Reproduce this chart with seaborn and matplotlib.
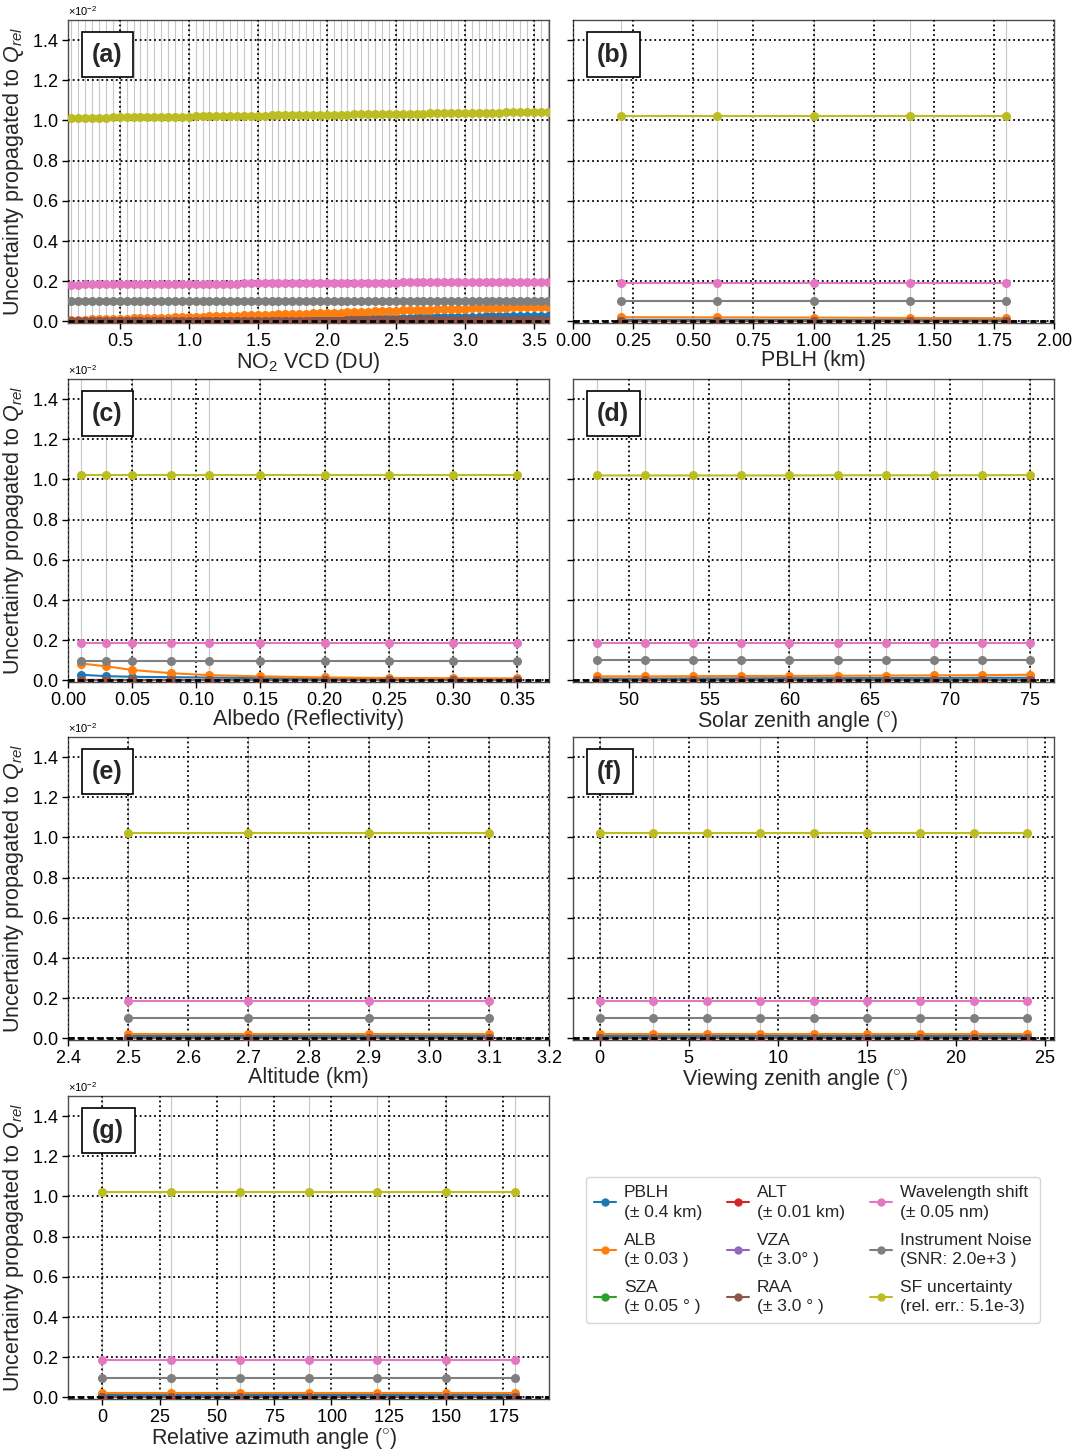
import numpy as np
import pandas as pd
import matplotlib
matplotlib.use("Agg")
import matplotlib.pyplot as plt
from matplotlib.lines import Line2D
from matplotlib.ticker import MultipleLocator
import seaborn as sns

# ---------------- data (y values in units of 1e-2) ----------------
SCALE = 1e-2
params = ["PBLH", "ALB", "SZA", "ALT", "VZA", "RAA", "WLS", "NOISE", "SF"]
colors = ["#1f77b4", "#ff7f0e", "#2ca02c", "#d62728", "#9467bd",
          "#8c564b", "#e377c2", "#7f7f7f", "#bcbd22"]
legend_labels = ["PBLH\n(± 0.4 km)", "ALB\n(± 0.03 )", "SZA\n(± 0.05 ° )",
                 "ALT\n(± 0.01 km)", "VZA\n(± 3.0° )", "RAA\n(± 3.0 ° )",
                 "Wavelength shift\n(± 0.05 nm)", "Instrument Noise\n(SNR: 2.0e+3 )",
                 "SF uncertainty\n(rel. err.: 5.1e-3)"]

# (a) NO2 VCD
a_x = np.round(np.arange(0.15, 3.601, 0.05), 2)
a_sf = [1.012, 1.012, 1.013, 1.013, 1.014, 1.014, 1.015, 1.015, 1.015, 1.016,
        1.016, 1.017, 1.017, 1.018, 1.018, 1.019, 1.019, 1.019, 1.020, 1.020,
        1.021, 1.021, 1.022, 1.022, 1.022, 1.023, 1.023, 1.024, 1.024, 1.025,
        1.025, 1.026, 1.026, 1.026, 1.027, 1.027, 1.028, 1.028, 1.029, 1.029,
        1.029, 1.030, 1.030, 1.031, 1.031, 1.032, 1.032, 1.033, 1.033, 1.033,
        1.034, 1.034, 1.035, 1.035, 1.036, 1.036, 1.036, 1.037, 1.037, 1.038,
        1.038, 1.039, 1.039, 1.040, 1.040, 1.040, 1.041, 1.041, 1.042, 1.042]
a_wls = [0.183, 0.183, 0.184, 0.184, 0.184, 0.184, 0.185, 0.185, 0.185, 0.185,
         0.185, 0.186, 0.186, 0.186, 0.186, 0.187, 0.187, 0.187, 0.187, 0.187,
         0.188, 0.188, 0.188, 0.188, 0.188, 0.189, 0.189, 0.189, 0.189, 0.189,
         0.190, 0.190, 0.190, 0.190, 0.191, 0.191, 0.191, 0.191, 0.191, 0.192,
         0.192, 0.192, 0.192, 0.192, 0.193, 0.193, 0.193, 0.193, 0.194, 0.194,
         0.194, 0.194, 0.194, 0.195, 0.195, 0.195, 0.195, 0.196, 0.196, 0.196,
         0.196, 0.196, 0.197, 0.197, 0.197, 0.197, 0.197, 0.198, 0.198, 0.198]
a_noise = [0.100, 0.100, 0.100, 0.100, 0.100, 0.100, 0.100, 0.100, 0.100, 0.100,
           0.100, 0.100, 0.100, 0.100, 0.100, 0.100, 0.100, 0.100, 0.100, 0.100,
           0.100, 0.100, 0.100, 0.100, 0.100, 0.100, 0.100, 0.100, 0.100, 0.100,
           0.100, 0.100, 0.100, 0.100, 0.100, 0.100, 0.100, 0.100, 0.100, 0.100,
           0.100, 0.100, 0.100, 0.100, 0.100, 0.100, 0.100, 0.100, 0.100, 0.100,
           0.100, 0.100, 0.100, 0.100, 0.100, 0.100, 0.100, 0.100, 0.100, 0.100,
           0.100, 0.100, 0.100, 0.100, 0.100, 0.100, 0.100, 0.100, 0.100, 0.100]
a_alb = [0.008, 0.009, 0.009, 0.010, 0.010, 0.011, 0.012, 0.013, 0.014, 0.015,
         0.015, 0.016, 0.017, 0.018, 0.019, 0.020, 0.021, 0.022, 0.023, 0.024,
         0.025, 0.026, 0.027, 0.028, 0.029, 0.030, 0.031, 0.032, 0.033, 0.034,
         0.035, 0.036, 0.037, 0.038, 0.039, 0.040, 0.041, 0.042, 0.043, 0.044,
         0.046, 0.047, 0.048, 0.049, 0.050, 0.051, 0.052, 0.054, 0.055, 0.056,
         0.057, 0.058, 0.059, 0.060, 0.061, 0.062, 0.063, 0.064, 0.065, 0.066,
         0.066, 0.067, 0.068, 0.069, 0.070, 0.070, 0.071, 0.072, 0.073, 0.074]
a_pblh = [0.003, 0.003, 0.003, 0.003, 0.004, 0.004, 0.004, 0.004, 0.004, 0.005,
          0.005, 0.005, 0.005, 0.006, 0.006, 0.006, 0.006, 0.007, 0.007, 0.007,
          0.008, 0.008, 0.008, 0.009, 0.009, 0.009, 0.010, 0.010, 0.010, 0.011,
          0.011, 0.011, 0.012, 0.012, 0.012, 0.013, 0.013, 0.013, 0.014, 0.014,
          0.015, 0.015, 0.016, 0.016, 0.017, 0.017, 0.018, 0.018, 0.019, 0.019,
          0.020, 0.020, 0.021, 0.021, 0.022, 0.022, 0.023, 0.023, 0.024, 0.024,
          0.025, 0.025, 0.025, 0.026, 0.026, 0.026, 0.027, 0.027, 0.027, 0.028]
a_sza = [0.001, 0.001, 0.001, 0.001, 0.001, 0.001, 0.001, 0.001, 0.001, 0.001,
         0.001, 0.001, 0.001, 0.001, 0.001, 0.001, 0.001, 0.001, 0.001, 0.001,
         0.001, 0.001, 0.001, 0.001, 0.001, 0.001, 0.001, 0.001, 0.001, 0.001,
         0.001, 0.001, 0.001, 0.001, 0.001, 0.001, 0.001, 0.001, 0.001, 0.001,
         0.001, 0.001, 0.001, 0.001, 0.001, 0.001, 0.001, 0.001, 0.001, 0.001,
         0.001, 0.001, 0.001, 0.001, 0.001, 0.001, 0.001, 0.001, 0.001, 0.001,
         0.001, 0.001, 0.001, 0.001, 0.001, 0.001, 0.001, 0.001, 0.001, 0.001]
a_alt = [0.002, 0.002, 0.002, 0.002, 0.002, 0.002, 0.002, 0.002, 0.002, 0.002,
         0.002, 0.002, 0.002, 0.002, 0.002, 0.002, 0.002, 0.002, 0.002, 0.002,
         0.002, 0.002, 0.002, 0.002, 0.002, 0.002, 0.002, 0.002, 0.002, 0.002,
         0.002, 0.002, 0.002, 0.002, 0.002, 0.002, 0.002, 0.002, 0.002, 0.002,
         0.002, 0.002, 0.002, 0.002, 0.002, 0.002, 0.002, 0.002, 0.002, 0.002,
         0.002, 0.002, 0.002, 0.002, 0.002, 0.002, 0.002, 0.002, 0.002, 0.002,
         0.002, 0.002, 0.002, 0.002, 0.002, 0.002, 0.002, 0.002, 0.002, 0.002]
a_vza = [0.001, 0.001, 0.001, 0.001, 0.001, 0.001, 0.001, 0.001, 0.001, 0.001,
         0.001, 0.001, 0.001, 0.001, 0.001, 0.001, 0.001, 0.001, 0.001, 0.001,
         0.001, 0.001, 0.001, 0.001, 0.001, 0.001, 0.001, 0.001, 0.001, 0.001,
         0.001, 0.001, 0.001, 0.001, 0.001, 0.001, 0.001, 0.001, 0.001, 0.001,
         0.001, 0.001, 0.001, 0.001, 0.001, 0.001, 0.001, 0.001, 0.001, 0.001,
         0.001, 0.001, 0.001, 0.001, 0.001, 0.001, 0.001, 0.001, 0.001, 0.001,
         0.001, 0.001, 0.001, 0.001, 0.001, 0.001, 0.001, 0.001, 0.001, 0.001]
a_raa = [0.003, 0.003, 0.003, 0.003, 0.003, 0.003, 0.003, 0.003, 0.003, 0.003,
         0.003, 0.003, 0.003, 0.003, 0.003, 0.003, 0.003, 0.003, 0.003, 0.003,
         0.004, 0.004, 0.004, 0.004, 0.004, 0.004, 0.004, 0.004, 0.004, 0.004,
         0.004, 0.004, 0.004, 0.004, 0.004, 0.004, 0.004, 0.004, 0.004, 0.004,
         0.005, 0.005, 0.005, 0.005, 0.005, 0.005, 0.005, 0.005, 0.005, 0.005,
         0.005, 0.005, 0.005, 0.005, 0.005, 0.005, 0.005, 0.005, 0.005, 0.005,
         0.006, 0.006, 0.006, 0.006, 0.006, 0.006, 0.006, 0.006, 0.006, 0.006]

# (b) PBLH
b_x = [0.2, 0.6, 1.0, 1.4, 1.8]
b_pblh = [0.008, 0.008, 0.007, 0.006, 0.006]
b_alb = [0.021, 0.020, 0.019, 0.017, 0.016]
b_sza = [0.001, 0.001, 0.001, 0.001, 0.001]
b_alt = [0.002, 0.002, 0.002, 0.002, 0.002]
b_vza = [0.001, 0.001, 0.001, 0.001, 0.001]
b_raa = [0.003, 0.003, 0.003, 0.003, 0.003]
b_wls = [0.189, 0.189, 0.189, 0.189, 0.189]
b_noise = [0.100, 0.100, 0.100, 0.100, 0.100]
b_sf = [1.020, 1.020, 1.020, 1.020, 1.020]

# (c) Albedo
c_x = [0.01, 0.03, 0.05, 0.08, 0.11, 0.15, 0.20, 0.25, 0.30, 0.35]
c_pblh = [0.028, 0.021, 0.018, 0.016, 0.014, 0.011, 0.009, 0.008, 0.007, 0.006]
c_alb = [0.084, 0.070, 0.052, 0.036, 0.026, 0.020, 0.015, 0.012, 0.011, 0.010]
c_sza = [0.001, 0.001, 0.001, 0.001, 0.001, 0.001, 0.001, 0.001, 0.001, 0.001]
c_alt = [0.002, 0.002, 0.002, 0.002, 0.002, 0.002, 0.002, 0.002, 0.002, 0.002]
c_vza = [0.001, 0.001, 0.001, 0.001, 0.001, 0.001, 0.001, 0.001, 0.001, 0.001]
c_raa = [0.003, 0.003, 0.003, 0.003, 0.003, 0.003, 0.003, 0.003, 0.003, 0.003]
c_wls = [0.188, 0.188, 0.188, 0.188, 0.188, 0.188, 0.188, 0.188, 0.188, 0.188]
c_noise = [0.099, 0.099, 0.099, 0.099, 0.099, 0.099, 0.099, 0.099, 0.099, 0.099]
c_sf = [1.020, 1.020, 1.020, 1.020, 1.020, 1.020, 1.020, 1.020, 1.020, 1.020]

# (d) Solar zenith angle
d_x = [48, 51, 54, 57, 60, 63, 66, 69, 72, 75]
d_pblh = [0.009, 0.009, 0.010, 0.010, 0.011, 0.011, 0.012, 0.012, 0.013, 0.013]
d_alb = [0.020, 0.020, 0.021, 0.022, 0.022, 0.023, 0.024, 0.025, 0.026, 0.028]
d_sza = [0.001, 0.001, 0.001, 0.001, 0.001, 0.001, 0.001, 0.001, 0.001, 0.001]
d_alt = [0.002, 0.002, 0.002, 0.002, 0.002, 0.002, 0.002, 0.002, 0.002, 0.002]
d_vza = [0.001, 0.001, 0.001, 0.001, 0.001, 0.001, 0.001, 0.001, 0.001, 0.001]
d_raa = [0.003, 0.003, 0.003, 0.003, 0.003, 0.003, 0.003, 0.003, 0.003, 0.003]
d_wls = [0.188, 0.188, 0.188, 0.188, 0.188, 0.188, 0.188, 0.188, 0.188, 0.188]
d_noise = [0.100, 0.100, 0.100, 0.100, 0.100, 0.100, 0.100, 0.100, 0.100, 0.100]
d_sf = [1.020, 1.020, 1.020, 1.020, 1.020, 1.021, 1.021, 1.021, 1.021, 1.022]

# (e) Altitude
e_x = [2.5, 2.7, 2.9, 3.1]
e_pblh = [0.010, 0.010, 0.010, 0.010]
e_alb = [0.021, 0.021, 0.021, 0.021]
e_sza = [0.001, 0.001, 0.001, 0.001]
e_alt = [0.002, 0.002, 0.002, 0.002]
e_vza = [0.001, 0.001, 0.001, 0.001]
e_raa = [0.003, 0.003, 0.003, 0.003]
e_wls = [0.188, 0.188, 0.188, 0.188]
e_noise = [0.100, 0.100, 0.100, 0.100]
e_sf = [1.020, 1.020, 1.020, 1.020]

# (f) Viewing zenith angle
f_x = [0, 3, 6, 9, 12, 15, 18, 21, 24]
f_pblh = [0.010, 0.010, 0.010, 0.010, 0.010, 0.010, 0.010, 0.010, 0.010]
f_alb = [0.021, 0.021, 0.021, 0.021, 0.021, 0.021, 0.021, 0.021, 0.021]
f_sza = [0.001, 0.001, 0.001, 0.001, 0.001, 0.001, 0.001, 0.001, 0.001]
f_alt = [0.002, 0.002, 0.002, 0.002, 0.002, 0.002, 0.002, 0.002, 0.002]
f_vza = [0.001, 0.001, 0.001, 0.001, 0.001, 0.001, 0.001, 0.001, 0.001]
f_raa = [0.003, 0.003, 0.003, 0.003, 0.003, 0.003, 0.003, 0.003, 0.003]
f_wls = [0.188, 0.188, 0.188, 0.188, 0.188, 0.188, 0.188, 0.188, 0.188]
f_noise = [0.100, 0.100, 0.100, 0.100, 0.100, 0.100, 0.100, 0.100, 0.100]
f_sf = [1.020, 1.020, 1.020, 1.020, 1.020, 1.020, 1.020, 1.020, 1.020]

# (g) Relative azimuth angle
g_x = [0, 30, 60, 90, 120, 150, 180]
g_pblh = [0.011, 0.011, 0.011, 0.011, 0.011, 0.011, 0.011]
g_alb = [0.021, 0.021, 0.021, 0.021, 0.021, 0.021, 0.021]
g_sza = [0.001, 0.001, 0.001, 0.001, 0.001, 0.001, 0.001]
g_alt = [0.002, 0.002, 0.002, 0.002, 0.002, 0.002, 0.002]
g_vza = [0.001, 0.001, 0.001, 0.001, 0.001, 0.001, 0.001]
g_raa = [0.003, 0.003, 0.003, 0.003, 0.003, 0.003, 0.003]
g_wls = [0.188, 0.188, 0.188, 0.188, 0.188, 0.188, 0.188]
g_noise = [0.099, 0.099, 0.099, 0.099, 0.099, 0.099, 0.099]
g_sf = [1.020, 1.020, 1.020, 1.020, 1.020, 1.020, 1.020]

panel_tags = ["(a)", "(b)", "(c)", "(d)", "(e)", "(f)", "(g)"]
x_labels = ["NO$_2$ VCD (DU)", "PBLH (km)", "Albedo (Reflectivity)",
            "Solar zenith angle ($^{\\circ}$)", "Altitude (km)",
            "Viewing zenith angle ($^{\\circ}$)", "Relative azimuth angle ($^{\\circ}$)"]
x_label_pos = [0.5, 0.5, 0.5, 0.467, 0.5, 0.463, 0.43]
x_limits = [(0.125, 3.61), (0.0, 2.0), (0.0, 0.375), (46.5, 76.5),
            (2.4, 3.2), (-1.5, 25.5), (-15, 195)]
x_steps = [0.5, 0.25, 0.05, 5, 0.1, 5, 25]

panels = [
    (a_x, [a_pblh, a_alb, a_sza, a_alt, a_vza, a_raa, a_wls, a_noise, a_sf]),
    (b_x, [b_pblh, b_alb, b_sza, b_alt, b_vza, b_raa, b_wls, b_noise, b_sf]),
    (c_x, [c_pblh, c_alb, c_sza, c_alt, c_vza, c_raa, c_wls, c_noise, c_sf]),
    (d_x, [d_pblh, d_alb, d_sza, d_alt, d_vza, d_raa, d_wls, d_noise, d_sf]),
    (e_x, [e_pblh, e_alb, e_sza, e_alt, e_vza, e_raa, e_wls, e_noise, e_sf]),
    (f_x, [f_pblh, f_alb, f_sza, f_alt, f_vza, f_raa, f_wls, f_noise, f_sf]),
    (g_x, [g_pblh, g_alb, g_sza, g_alt, g_vza, g_raa, g_wls, g_noise, g_sf]),
]

# ---------------- figure ----------------
sns.set_style("white")
plt.rcParams["font.family"] = ["Liberation Sans", "DejaVu Sans"]
plt.rcParams["mathtext.fontset"] = "custom"
plt.rcParams["mathtext.rm"] = "Liberation Sans"
plt.rcParams["mathtext.it"] = "Liberation Sans:italic"
plt.rcParams["mathtext.bf"] = "Liberation Sans:bold"
plt.rcParams["axes.formatter.use_mathtext"] = True
plt.rcParams["axes.edgecolor"] = "0.3"
plt.rcParams["axes.linewidth"] = 1.0
plt.rcParams["xtick.color"] = "black"
plt.rcParams["ytick.color"] = "black"

W, H = 1078, 1451
fig = plt.figure(figsize=(W / 100, H / 100), dpi=100)

col_left = [68 / W, 573 / W]
ax_w = 481 / W
ax_h = 303 / H
row_bottom = [1 - 323 / H, 1 - 682 / H, 1 - 1040 / H, 1 - 1399 / H]

palette = dict(zip(params, colors))

for i, (xs, series) in enumerate(panels):
    row, col = divmod(i, 2)
    ax = fig.add_axes([col_left[col], row_bottom[row], ax_w, ax_h])
    frames = []
    for p, vals in zip(params, series):
        frames.append(pd.DataFrame({"x": list(xs), "y": np.array(vals) * SCALE, "param": p}))
    df = pd.concat(frames, ignore_index=True)

    for xv in xs:
        ax.axvline(xv, color="#c8c8c8", lw=0.8, zorder=0.5)

    sns.lineplot(data=df, x="x", y="y", hue="param", hue_order=params,
                 palette=palette, marker="o", markersize=6.5, markeredgewidth=0,
                 linewidth=1.5, legend=False, errorbar=None, ax=ax, zorder=3)

    ax.axhline(0, color="k", ls=(0, (2.2, 1.3)), lw=2.0, zorder=10)

    ax.set_xlim(*x_limits[i])
    ax.set_ylim(-0.00008, 0.015)
    ax.xaxis.set_major_locator(MultipleLocator(x_steps[i]))
    ax.yaxis.set_major_locator(MultipleLocator(0.002))
    ax.ticklabel_format(axis="y", style="sci", scilimits=(-2, -2), useMathText=True)
    ax.yaxis.get_offset_text().set_fontsize(8)
    ax.grid(True, which="major", linestyle=":", color="k", linewidth=1.3)
    ax.set_axisbelow(False)
    for gl in ax.get_xgridlines() + ax.get_ygridlines():
        gl.set_zorder(1)
    ax.tick_params(axis="both", labelsize=13, length=4, width=1, direction="out",
                   bottom=True, left=True, pad=3)
    ax.set_xlabel(x_labels[i], fontsize=15.5, labelpad=0)
    ax.xaxis.label.set_x(x_label_pos[i])
    if col == 0:
        ax.set_ylabel("Uncertainty propagated to $Q_{rel}$", fontsize=15.5, labelpad=4)
    else:
        ax.set_ylabel("")
        ax.tick_params(labelleft=False)
        ax.yaxis.get_offset_text().set_visible(False)
    ax.text(0.05, 0.925, panel_tags[i], transform=ax.transAxes, fontsize=18,
            fontweight="bold", va="top", ha="left", zorder=20,
            bbox=dict(boxstyle="square,pad=0.42", fc="white", ec="k", lw=1.2))

handles = [Line2D([0], [0], color=c, marker="o", markersize=5, lw=1.5) for c in colors]
leg = fig.legend(handles, legend_labels, loc="upper left",
                 bbox_to_anchor=(577 / W, 1 - 1168 / H), ncol=3, fontsize=12.5,
                 frameon=True, edgecolor="#cccccc", fancybox=True, handlelength=1.25,
                 handletextpad=0.45, columnspacing=1.45, labelspacing=0.75,
                 borderpad=0.5)
for t in leg.get_texts():
    t.set_linespacing(1.35)

fig.savefig("out.png", dpi=100)
